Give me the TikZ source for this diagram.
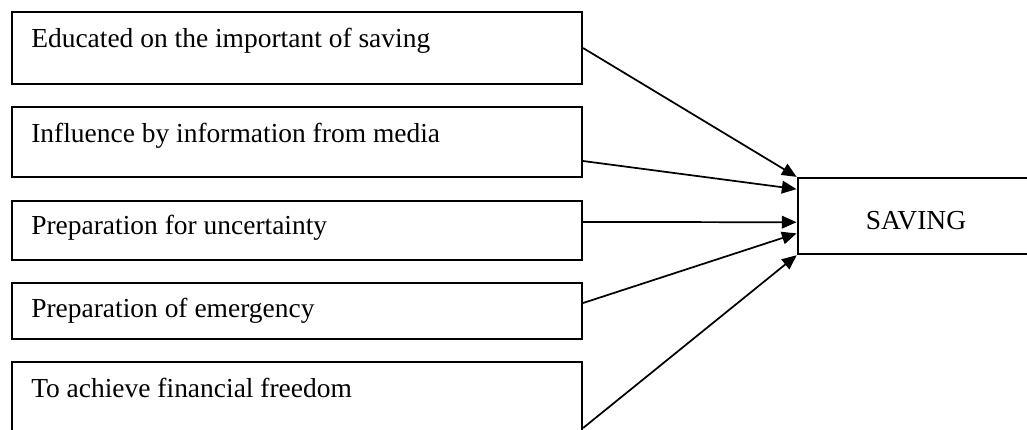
\documentclass[tikz,border=0pt]{standalone}
\usepackage{fontspec}
\setmainfont{Liberation Serif}
\usetikzlibrary{arrows.meta,calc}
\begin{document}
\begin{tikzpicture}[x=0.75pt,y=-0.75pt,
  factor/.style={draw,line width=1.6pt,rectangle,minimum width=570*0.75pt,inner sep=0pt},
  target/.style={draw,line width=1.2pt,rectangle,minimum width=242*0.75pt,minimum height=76*0.75pt,inner sep=0pt},
  lbl/.style={anchor=base west,inner sep=0pt,font=\fontsize{20.6}{24}\selectfont},
  link/.style={line width=1.3pt,-{Triangle[length=11pt,width=9.5pt]},shorten >=0.5pt}]
\useasboundingbox (0,0) rectangle (1027,429);
\clip (0,0) rectangle (1027,429);
\node[factor,minimum height=72*0.75pt] (b1) at (297,48) {};
\node[factor,minimum height=70*0.75pt] (b2) at (297,142) {};
\node[factor,minimum height=59*0.75pt] (b3) at (297,230.5) {};
\node[factor,minimum height=56*0.75pt] (b4) at (297,311) {};
\node[factor,minimum height=84*0.75pt] (b5) at (297,404) {};
\node[target] (s) at (919,216) {};
\node[lbl] (t1) at (31,47) {Educated on the important of saving};
\node[lbl] (t2) at (31,142) {Influence by information from media};
\node[lbl] (t3) at (31,234) {Preparation for uncertainty};
\node[lbl] (t4) at (31,317) {Preparation of emergency};
\node[lbl] (t5) at (31,397) {To achieve financial freedom};
\node[lbl,anchor=base] (ts) at (916,229) {SAVING};
\coordinate (e2) at ($(b2.east)+(0,19)$);
\coordinate (e3) at ($(b3.east)+(0,-8.5)$);
\coordinate (e4) at ($(b4.east)+(0,-8)$);
\coordinate (e5) at ($(b5.east)+(0,24)$);
\coordinate (s2) at ($(s.north west)+(0,12)$);
\coordinate (s3) at ($(s.north west)+(0,45)$);
\coordinate (s4) at ($(s.north west)+(0,56)$);
\draw[link] (b1.east) -- (s.north west);
\draw[link] (e2) -- (s2);
\draw[link] (e3) -- (s3);
\draw[link] (e4) -- (s4);
\draw[link] (e5) -- (s.south west);
\end{tikzpicture}
\end{document}
